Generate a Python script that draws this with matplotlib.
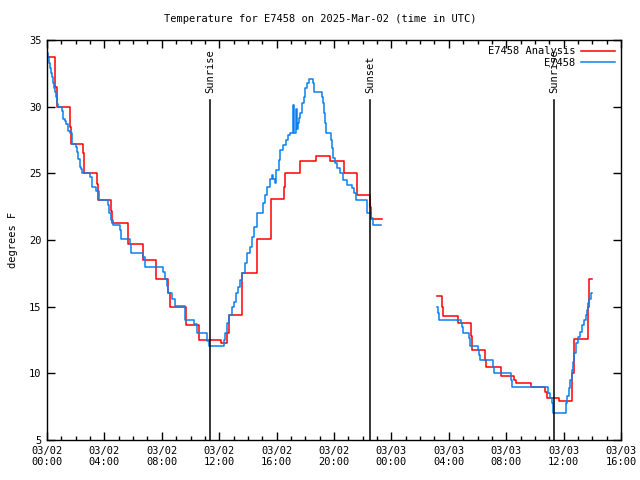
import numpy as np
import matplotlib
matplotlib.use("Agg")
import matplotlib.pyplot as plt
from matplotlib.ticker import MultipleLocator, FixedLocator

# hours since 03/02 00:00 UTC
analysis_h1 = [0.00, 0.56, 0.70, 1.60, 1.67, 2.51, 2.58, 3.48, 3.55, 4.46, 4.53, 5.64, 6.66, 7.63, 8.43, 8.57,
               9.69, 10.59, 12.13, 12.54, 12.65, 13.59, 13.62, 14.63, 15.64, 16.52, 16.59, 17.63, 18.75, 19.72,
               20.70, 21.60, 22.51, 22.58, 23.34]
analysis_t1 = [33.7, 31.5, 30.0, 28.5, 27.2, 26.5, 25.0, 24.2, 23.0, 22.2, 21.3, 19.7, 18.5, 17.1, 16.0, 15.0,
               13.6, 12.5, 12.3, 13.0, 14.4, 16.0, 17.5, 20.1, 23.1, 24.0, 25.0, 25.9, 26.3, 25.9,
               25.0, 23.4, 22.5, 21.6, 21.6]
analysis_h2 = [27.18, 27.53, 27.63, 28.61, 29.55, 29.62, 30.49, 30.59, 31.67, 32.54, 32.65, 33.73, 34.70, 34.81,
               35.71, 36.62, 36.69, 37.70, 37.77, 37.98]
analysis_t2 = [15.8, 15.0, 14.3, 13.8, 12.8, 11.75, 11.0, 10.5, 9.8, 9.5, 9.3, 9.0, 8.6, 8.15,
               7.9, 10.0, 12.6, 15.0, 17.1, 17.1]

obs_h1 = [0.00, 0.07, 0.14, 0.21, 0.28, 0.35, 0.42, 0.49, 0.56, 0.63, 0.70, 0.77, 1.05, 1.11, 1.25, 1.32, 1.46,
          1.60, 1.74, 2.02, 2.09, 2.16, 2.30, 2.37, 2.44, 3.00, 3.14, 3.41, 3.62, 4.23, 4.32, 4.46, 4.60, 5.09,
          5.16, 5.78, 5.85, 6.69, 6.83, 8.08, 8.22, 8.36, 8.43, 8.71, 8.92, 9.62, 10.24, 10.45, 11.15, 11.29,
          12.33, 12.40, 12.54, 12.68, 12.89, 13.03, 13.17, 13.31, 13.45, 13.59, 13.80, 13.94, 14.15, 14.29,
          14.43, 14.63, 15.05, 15.19, 15.33, 15.54, 15.68, 15.75, 15.89, 15.96, 16.17, 16.24, 16.45, 16.66,
          16.79, 16.93, 17.14, 17.21, 17.35, 17.40, 17.49, 17.56, 17.63, 17.77, 17.91, 17.98, 18.12, 18.26,
          18.54, 18.61, 19.16, 19.23, 19.30, 19.37, 19.44, 19.79, 19.86, 19.93, 20.07, 20.21, 20.42, 20.63,
          20.91, 21.25, 21.39, 21.53, 22.30, 22.58, 22.72, 23.28]
obs_t1 = [34.0, 33.7, 33.3, 32.9, 32.5, 32.2, 31.8, 31.4, 31.1, 30.7, 30.2, 30.0, 29.7, 29.1, 28.9, 28.7, 28.2,
          28.0, 27.2, 27.0, 26.6, 26.1, 25.5, 25.3, 25.0, 24.7, 24.0, 23.7, 23.0, 22.6, 22.0, 21.5, 21.1, 20.75,
          20.1, 19.7, 19.0, 18.7, 18.0, 17.6, 17.1, 16.55, 16.0, 15.6, 15.05, 14.0, 13.7, 13.0, 12.4, 12.05,
          12.5, 13.0, 13.8, 14.4, 15.0, 15.35, 16.0, 16.5, 17.0, 17.5, 18.3, 19.0, 19.5, 20.2,
          21.0, 22.0, 22.8, 23.4, 24.0, 24.6, 24.9, 24.55, 24.3, 25.25, 26.0, 26.75, 27.1, 27.5,
          27.9, 28.0, 30.1, 28.0, 29.8, 28.3, 28.8, 29.15, 29.5, 30.25, 30.7, 31.4, 31.8, 32.1,
          31.75, 31.1, 30.7, 30.25, 29.5, 28.8, 28.0, 27.5, 26.9, 26.15, 25.8, 25.4, 25.0, 24.5,
          24.1, 23.9, 23.5, 23.0, 22.0, 21.65, 21.1, 21.1]
obs_h2 = [27.18, 27.25, 27.32, 28.85, 28.92, 28.99, 29.41, 29.48, 30.03, 30.10, 30.17, 31.08, 31.15, 32.34,
          32.40, 34.91, 35.05, 35.19, 35.26, 36.17, 36.24, 36.38, 36.45, 36.59, 36.66, 36.72, 36.86, 37.00,
          37.14, 37.28, 37.42, 37.56, 37.63, 37.70, 37.77, 37.91, 37.98]
obs_t2 = [15.0, 14.5, 14.0, 13.8, 13.5, 13.0, 12.65, 12.05, 11.75, 11.4, 11.0, 10.5, 10.0, 9.5,
          9.0, 8.55, 8.15, 7.8, 7.0, 7.8, 8.3, 8.9, 9.5, 10.25, 10.85, 11.5, 12.25, 12.7,
          13.1, 13.6, 14.0, 14.4, 14.75, 15.25, 15.6, 16.0, 16.0]

sun_h = [11.38, 22.50, 35.35]
sun_labels = ["Sunrise", "Sunset", "Sunrise"]
sun_line_top = 30.5

tick_h = list(range(0, 41, 4))
tick_labels = ["03/02\n00:00", "03/02\n04:00", "03/02\n08:00", "03/02\n12:00", "03/02\n16:00", "03/02\n20:00",
               "03/03\n00:00", "03/03\n04:00", "03/03\n08:00", "03/03\n12:00", "03/03\n16:00"]

font = "DejaVu Sans Mono"
fs = 7.5

fig = plt.figure(figsize=(6.4, 4.8), dpi=100)
ax = fig.add_axes([47/640, 40/480, (621-47)/640, 400/480])

red = "#ff0000"
blue = "#0a80f0"

ax.plot(analysis_h1 + [np.nan] + analysis_h2, analysis_t1 + [np.nan] + analysis_t2,
        drawstyle="steps-post", color=red, lw=1.1, label="E7458 Analysis")
ax.plot(obs_h1 + [np.nan] + obs_h2, obs_t1 + [np.nan] + obs_t2,
        drawstyle="steps-post", color=blue, lw=1.1, label="E7458")

for h, lab in zip(sun_h, sun_labels):
    ax.plot([h, h], [5, sun_line_top], color="black", lw=1.1)
    ax.text(h, sun_line_top + 0.5, lab, rotation=90, ha="center", va="bottom",
            fontsize=fs, family=font)

ax.set_xlim(0, 40)
ax.set_ylim(5, 35)
ax.xaxis.set_major_locator(FixedLocator(tick_h))
ax.set_xticklabels(tick_labels, family=font, fontsize=fs)
ax.xaxis.set_minor_locator(MultipleLocator(1))
ax.yaxis.set_major_locator(MultipleLocator(5))
for lab in ax.get_yticklabels():
    lab.set_family(font)
    lab.set_fontsize(fs)
ax.tick_params(which="both", direction="in", top=True, right=True, width=1)
ax.tick_params(which="major", length=6, pad=4)
ax.tick_params(which="minor", length=3)
for s in ax.spines.values():
    s.set_linewidth(1)

ax.set_ylabel("degrees F", family=font, fontsize=fs, labelpad=8)
fig.text(0.5, 1 - 19/480, "Temperature for E7458 on 2025-Mar-02 (time in UTC)",
         ha="center", va="center", family=font, fontsize=fs)

leg = ax.legend(loc="upper right", frameon=False, prop={"family": font, "size": fs},
                markerfirst=False, handlelength=3.2, handletextpad=0.6,
                borderaxespad=0.2, labelspacing=0.15)
for t in leg.get_texts():
    t.set_ha("right")

fig.savefig("out.png", dpi=100)
